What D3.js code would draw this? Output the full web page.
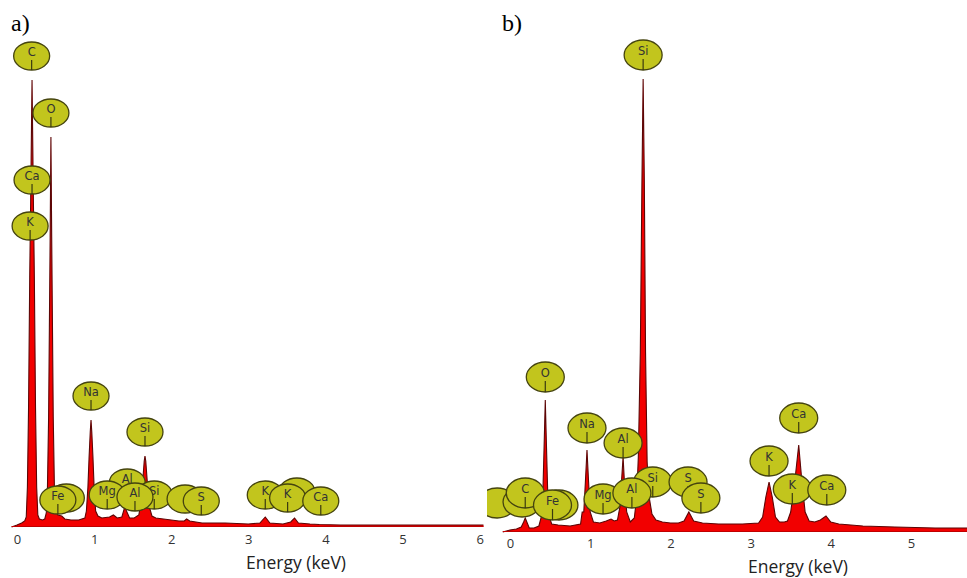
<!DOCTYPE html>
<html>
<head>
<meta charset="utf-8">
<script src="https://cdn.jsdelivr.net/npm/d3@7"></script>
<style>
  html, body { margin: 0; padding: 0; background: #fff; }
  svg { display: block; }
</style>
</head>
<body>
<svg id="chart" width="967" height="578"></svg>
<script>
// ---- EDS spectrum a) : energy (keV) and counts ----
const energyA = [-0.07, 0.00, 0.06, 0.10, 0.12, 0.135, 0.15, 0.165, 0.178, 0.188, 0.195, 0.202, 0.212, 0.225,
  0.24, 0.255, 0.27, 0.29, 0.33, 0.36, 0.38, 0.395, 0.41, 0.42, 0.43, 0.44, 0.45, 0.46, 0.47, 0.485, 0.50,
  0.53, 0.58, 0.62, 0.70, 0.80, 0.88, 0.90, 0.92, 0.935, 0.95, 0.96, 0.97, 0.985, 1.00, 1.02, 1.05,
  1.10, 1.20, 1.25, 1.30, 1.36, 1.39, 1.405, 1.42, 1.46, 1.52, 1.58, 1.61, 1.63, 1.65, 1.66, 1.67,
  1.69, 1.71, 1.75, 1.80, 1.90, 2.00, 2.10, 2.17, 2.20, 2.24, 2.40, 2.70, 3.00, 3.15, 3.22, 3.28,
  3.45, 3.55, 3.60, 3.65, 3.80, 3.92, 4.20, 5.00, 6.05];
const countsA = [0, 2, 4, 6, 10, 40, 120, 250, 330, 400, 447, 400, 330, 250,
  120, 40, 12, 8, 7, 8, 14, 40, 110, 200, 290, 390, 290, 200, 110, 40, 18,
  12, 11, 8, 7, 7, 9, 16, 40, 70, 95, 107, 95, 70, 40, 16, 11,
  9, 10, 12, 9, 10, 18, 20, 16, 9, 9, 12, 25, 45, 66, 71, 66,
  45, 22, 11, 9, 8, 7, 6, 6, 8, 6, 4, 4, 3, 4, 10, 4,
  3, 5, 9, 4, 3, 2.5, 2, 2, 2];

// ---- EDS spectrum b) ----
const energyB = [-0.09, 0.00, 0.08, 0.14, 0.17, 0.19, 0.21, 0.24, 0.30, 0.36, 0.39, 0.41, 0.425, 0.44,
  0.455, 0.47, 0.49, 0.52, 0.60, 0.75, 0.88, 0.90, 0.92, 0.94, 0.96, 0.98, 1.00, 1.04, 1.12, 1.20,
  1.26, 1.30, 1.34, 1.37, 1.39, 1.41, 1.43, 1.455, 1.50, 1.55, 1.58, 1.60, 1.625, 1.645, 1.66, 1.675,
  1.69, 1.71, 1.735, 1.77, 1.82, 1.90, 2.00, 2.10, 2.17, 2.23, 2.29, 2.40, 2.60, 2.90, 3.10, 3.15,
  3.19, 3.23, 3.27, 3.31, 3.36, 3.42, 3.46, 3.50, 3.55, 3.60, 3.64, 3.68, 3.73, 3.80, 3.87, 3.94,
  4.00, 4.10, 4.40, 4.80, 5.30, 5.90];
const countsB = [0, 2, 3, 5, 10, 14, 10, 4, 4, 6, 15, 40, 85, 132,
  85, 40, 15, 8, 7, 6, 8, 20, 20, 50, 82, 50, 20, 10, 9, 11,
  13, 11, 12, 25, 50, 75, 45, 20, 10, 14, 35, 75, 180, 350, 453, 350,
  180, 70, 35, 18, 12, 10, 9, 9, 11, 20, 11, 9, 8, 8, 9, 15,
  35, 50, 35, 15, 10, 10, 11, 20, 50, 87, 50, 20, 11, 10, 12, 16,
  10, 8, 6, 5, 4, 4];

// ---- axis ticks (keV) ----
const ticksA = [0, 1, 2, 3, 4, 5, 6];
const ticksB = [0, 1, 2, 3, 4, 5];

// ---- element markers: name, energy of the line (keV), marker level (counts) ----
// listed in drawing order; blank names are stacked markers sitting behind another one
const markNamesA  = ["C", "O", "Ca", "K", "Na", "Si", "", "Fe", "Al", "Si", "Mg", "Al", "", "S", "K", "", "K", "Ca"];
const markEnergyA = [0.19, 0.44, 0.195, 0.17, 0.96, 1.66, 0.64, 0.53, 1.43, 1.78, 1.17, 1.53, 2.18, 2.39, 3.22, 3.63, 3.51, 3.94];
const markLevelA  = [471, 414, 347, 301, 131, 95, 29, 27, 44, 32, 32, 30, 28, 26, 32, 35, 29, 26];

const markNamesB  = ["", "Si", "O", "Na", "Al", "", "C", "", "Fe", "Si", "Mg", "Al", "S", "S", "K", "Ca", "K", "Ca"];
const markEnergyB = [-0.16, 1.66, 0.44, 0.96, 1.41, 0.15, 0.19, 0.61, 0.53, 1.78, 1.16, 1.52, 2.22, 2.38, 3.23, 3.60, 3.52, 3.95];
const markLevelB  = [29, 477, 155, 104, 89, 30, 39, 27, 27, 50, 33, 39, 50, 34, 71, 114, 43, 42];

const svg = d3.select("#chart");

function drawPanel(cfg) {
  const g = svg.append("g");
  if (cfg.clipId) {
    svg.append("clipPath").attr("id", cfg.clipId)
      .append("rect").attr("x", cfg.clipX).attr("y", 0).attr("width", 967 - cfg.clipX).attr("height", 578);
    g.attr("clip-path", `url(#${cfg.clipId})`);
  }
  const x = d3.scaleLinear().domain(cfg.domain).range(cfg.range);
  const y = d3.scaleLinear().domain([0, 500]).range([cfg.base, cfg.base - 500]);
  const pts = cfg.energy.map((e, i) => [e, cfg.counts[i]]);

  const area = d3.area().x(d => x(d[0])).y0(y(0)).y1(d => y(d[1]));
  const line = d3.line().x(d => x(d[0])).y(d => y(d[1]));

  g.append("path").datum(pts).attr("d", area).attr("fill", "#f20000");
  g.append("path").datum(pts).attr("d", line)
    .attr("fill", "none").attr("stroke", "#5c0505").attr("stroke-width", 1.1);
  g.append("line").attr("x1", x(cfg.energy[0])).attr("x2", x(cfg.energy[cfg.energy.length - 1]))
    .attr("y1", y(0) - 0.5).attr("y2", y(0) - 0.5).attr("stroke", "#c00000").attr("stroke-width", 1);

  // element markers
  const rx = cfg.rx, ry = cfg.ry;
  const marks = g.append("g").selectAll("g")
    .data(cfg.names.map((n, i) => ({ name: n, e: cfg.markE[i], lvl: cfg.markL[i] })))
    .join("g")
    .attr("transform", d => `translate(${x(d.e)},${y(d.lvl)})`);
  marks.append("ellipse").attr("rx", rx).attr("ry", ry)
    .attr("fill", "#c2c51d").attr("stroke", "#45440f").attr("stroke-width", 1.3);
  marks.filter(d => d.name !== "").append("line")
    .attr("x1", 0).attr("x2", 0).attr("y1", 4).attr("y2", ry)
    .attr("stroke", "#3a3a10").attr("stroke-width", 1.2);
  marks.filter(d => d.name !== "").append("text")
    .attr("text-anchor", "middle").attr("y", -4).attr("dy", "0.35em")
    .attr("font-family", "'DejaVu Sans', sans-serif").attr("font-size", 11.5)
    .attr("fill", "#333").text(d => d.name);

  // energy axis
  const ax = svg.append("g").attr("transform", `translate(0,${cfg.base})`)
    .call(d3.axisBottom(x).tickValues(cfg.ticks).tickSize(0).tickPadding(cfg.pad).tickFormat(d3.format("d")));
  ax.select(".domain").remove();
  ax.selectAll("text").attr("font-family", "'Open Sans', sans-serif").attr("font-size", 13).attr("fill", "#333");

  svg.append("text").attr("x", cfg.titleX).attr("y", cfg.titleY)
    .attr("text-anchor", "middle").attr("font-family", "'Open Sans', sans-serif")
    .attr("font-size", 17.5).attr("fill", "#222").text("Energy (keV)");

  svg.append("text").attr("x", cfg.tagX).attr("y", 31)
    .attr("font-family", "'Liberation Serif', 'Times New Roman', serif")
    .attr("font-size", 24).attr("fill", "#000").text(cfg.tag);
}

drawPanel({
  energy: energyA, counts: countsA, ticks: ticksA,
  names: markNamesA, markE: markEnergyA, markL: markLevelA,
  domain: [0, 6], range: [17, 479.6], base: 527, pad: 7.5, rx: 18, ry: 14,
  titleX: 296, titleY: 569, tag: "a)", tagX: 11
});

drawPanel({
  energy: energyB, counts: countsB, ticks: ticksB,
  names: markNamesB, markE: markEnergyB, markL: markLevelB,
  domain: [0, 5], range: [510, 911], base: 532, pad: 6.5, rx: 19, ry: 15,
  titleX: 798, titleY: 573, tag: "b)", tagX: 502, clipId: "clipB", clipX: 487
});
</script>
</body>
</html>
